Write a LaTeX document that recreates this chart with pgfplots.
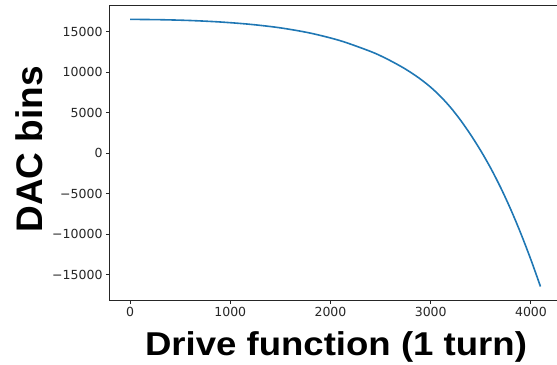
\documentclass[border=0pt]{standalone}
\usepackage{fontspec}
\setmainfont{DejaVu Sans}
\newfontfamily\labfont{Liberation Sans}
\usepackage{pgfplots}
\pgfplotsset{compat=1.18}
\definecolor{mplblue}{HTML}{1F77B4}
\definecolor{spine}{HTML}{262626}
\begin{document}
\begin{tikzpicture}
\useasboundingbox (-109.5bp,-65bp) rectangle (447.5bp,300bp);
\begin{axis}[
  at={(0,0)}, anchor=south west,
  scale only axis,
  width=451.5bp, height=294bp,
  xmin=-204.75, xmax=4299.75,
  ymin=-18140, ymax=18214,
  enlargelimits=false,
  axis line style={spine, line width=1bp},
  tick style={spine, line width=1bp},
  tick align=outside,
  tick pos=left,
  major tick length=3.5bp,
  scaled ticks=false,
  xtick={0,1000,2000,3000,4000},
  xticklabels={0,1000,2000,3000,4000},
  ytick={-15000,-10000,-5000,0,5000,10000,15000},
  yticklabels={−15000,−10000,−5000,0,5000,10000,15000},
  ticklabel style={font=\fontsize{12.5bp}{15bp}\selectfont, text=spine},
]
\addplot[mplblue, line width=1.6bp, smooth] coordinates {
(0,16561) (300,16520) (600,16420) (900,16236) (1200,15946) (1500,15511)
(1800,14858) (2100,13913) (2400,12593) (2550,11753) (2700,10763) (2800,10006)
(2900,9153) (3000,8166) (3100,7003) (3200,5641) (3300,4053) (3400,2266)
(3500,303) (3600,-1872) (3700,-4297) (3800,-6985) (3900,-9947)
(4000,-13175) (4095,-16479)
};
\end{axis}
\node[anchor=base, inner sep=0pt, font=\labfont\bfseries\fontsize{33bp}{36bp}\selectfont]
  at (226.5bp,-55.3bp) {\scalebox{1.108}[1]{Drive function (1 turn)}};
\node[anchor=base, inner sep=0pt, rotate=90, font=\labfont\bfseries\fontsize{37bp}{40bp}\selectfont]
  at (-66.5bp,150.8bp) {DAC bins};
\end{tikzpicture}
\end{document}
